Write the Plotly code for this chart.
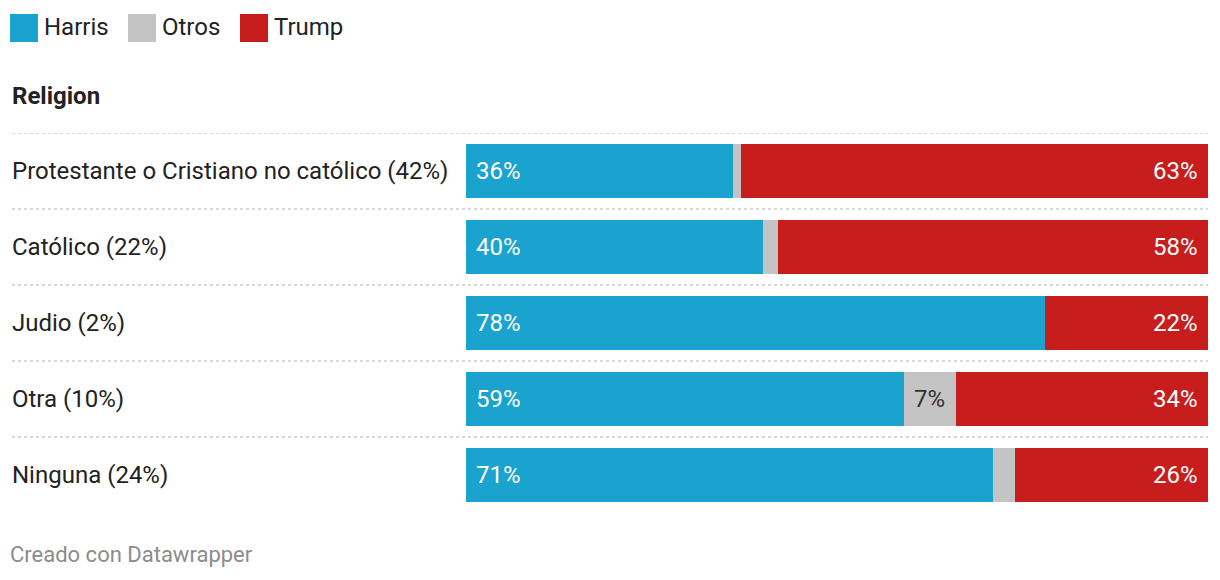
import plotly.graph_objects as go

categories = ["Protestante o Cristiano no católico (42%)", "Católico (22%)", "Judio (2%)", "Otra (10%)", "Ninguna (24%)"]
harris = [36, 40, 78, 59, 71]
otros = [1, 2, 0, 7, 3]
trump = [63, 58, 22, 34, 26]
series_names = ["Harris", "Otros", "Trump"]
colors = {"Harris": "#1aa3ce", "Otros": "#c4c4c4", "Trump": "#c71e1d"}

W, H = 1220, 580
FONT = "Roboto"
FS = 24
x0, x1 = 466, 1208
ytop, ybot = 133, 513

fig = go.Figure()
ypos = list(range(len(categories)))
for name, vals in zip(series_names, [harris, otros, trump]):
    fig.add_trace(go.Bar(
        y=ypos, x=vals, orientation="h", name=name,
        marker=dict(color=colors[name], line=dict(width=0)),
        width=54/76, hoverinfo="skip", showlegend=False))

annotations = []
shapes = []
pad = dict(borderpad=0, borderwidth=0)
for i, cat in enumerate(categories):
    annotations.append(dict(x=12/W, xref="paper", y=i, yref="y", text=cat, showarrow=False,
                            xanchor="left", yanchor="middle", **pad,
                            font=dict(family=FONT, size=FS, color="#222222")))
    annotations.append(dict(x=0, xref="x", y=i, yref="y", text=f"{harris[i]}%", showarrow=False,
                            xanchor="left", yanchor="middle", xshift=10, **pad,
                            font=dict(family=FONT, size=FS, color="#ffffff")))
    annotations.append(dict(x=100, xref="x", y=i, yref="y", text=f"{trump[i]}%", showarrow=False,
                            xanchor="right", yanchor="middle", xshift=-10, **pad,
                            font=dict(family=FONT, size=FS, color="#ffffff")))
    if otros[i] >= 5:
        annotations.append(dict(x=harris[i] + otros[i] / 2, xref="x", y=i, yref="y", text=f"{otros[i]}%",
                                showarrow=False, xanchor="center", yanchor="middle", **pad,
                                font=dict(family=FONT, size=FS, color="#333333")))
    shapes.append(dict(type="line", xref="paper", yref="y", x0=12/W, x1=x1/W, y0=i-0.5, y1=i-0.5,
                       line=dict(color="#cccccc", width=1.5, dash="dot")))

# legend
legend_x = [10, 128, 240]
for name, lx in zip(series_names, legend_x):
    shapes.append(dict(type="rect", xref="paper", yref="paper",
                       x0=lx/W, x1=(lx+28)/W, y0=1-42/H, y1=1-14/H,
                       fillcolor=colors[name], line=dict(width=0)))
    annotations.append(dict(x=(lx+34)/W, xref="paper", y=1-27/H, yref="paper", text=name,
                            showarrow=False, xanchor="left", yanchor="middle", **pad,
                            font=dict(family=FONT, size=FS, color="#222222")))

annotations.append(dict(x=12/W, xref="paper", y=1-96/H, yref="paper", text="<b>Religion</b>",
                        showarrow=False, xanchor="left", yanchor="middle", **pad,
                        font=dict(family=FONT, size=FS, color="#222222")))
annotations.append(dict(x=10/W, xref="paper", y=1-554/H, yref="paper", text="Creado con Datawrapper",
                        showarrow=False, xanchor="left", yanchor="middle", **pad,
                        font=dict(family=FONT, size=22, color="#8c8c8c")))

fig.update_layout(
    width=W, height=H, margin=dict(l=0, r=0, t=0, b=0),
    paper_bgcolor="white", plot_bgcolor="white",
    barmode="stack", bargap=0,
    xaxis=dict(domain=[x0/W, x1/W], range=[0, 100], visible=False, fixedrange=True),
    yaxis=dict(domain=[1-ybot/H, 1-ytop/H], range=[len(categories)-0.5, -0.5], visible=False, fixedrange=True),
    annotations=annotations, shapes=shapes,
    font=dict(family=FONT),
)

fig.write_html("out.html", config={"displayModeBar": False})
